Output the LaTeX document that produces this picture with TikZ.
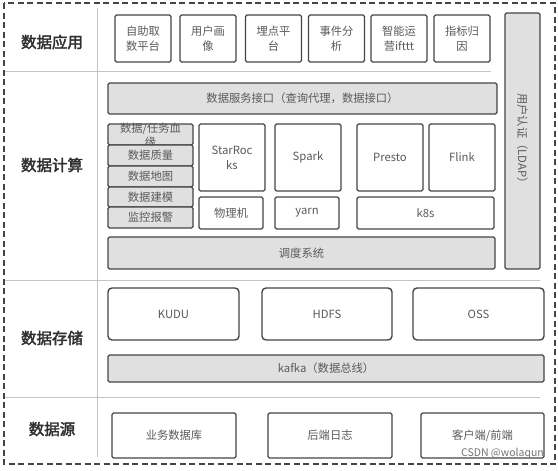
\documentclass[tikz,border=0pt]{standalone}
\usepackage{fontspec}
\setmainfont{Noto Sans CJK SC}
\newfontfamily\lblfont{Noto Sans CJK SC}[FakeBold=2.5]
\usetikzlibrary{positioning}
\definecolor{bordc}{HTML}{454545}
\definecolor{txtc}{HTML}{5A5A5A}
\definecolor{fillg}{HTML}{E0E0E0}
\definecolor{sepc}{HTML}{C4C4C4}
\definecolor{lblc}{HTML}{303030}
\begin{document}
\begin{tikzpicture}[x=1pt,y=-1pt,
  box/.style={draw=bordc,line width=1.4pt,rounded corners=1.5pt,fill=white,inner sep=0pt,
    text=txtc,font=\fontsize{11.3}{15}\selectfont,align=center},
  gbox/.style={box,fill=fillg},
  rbox/.style={box,rounded corners=4pt},
  lbl/.style={text=lblc,font=\lblfont\fontsize{15.5}{18}\selectfont},
  sep/.style={draw=sepc,line width=0.9pt}]
\useasboundingbox (0,0) rectangle (558,471);
% outer dashed frame
\draw[bordc,line width=1.4pt,dash pattern=on 6pt off 3.5pt] (4,3) rectangle (555,464);
% separators
\coordinate (v1) at (97,8); \coordinate (v2) at (97,457);
\draw[sep] (v1) -- (v2);
\coordinate (h1a) at (5,71); \coordinate (h1b) at (491,71);
\coordinate (h2a) at (5,280); \coordinate (h2b) at (540,280);
\coordinate (h3a) at (5,397); \coordinate (h3b) at (540,397);
\draw[sep] (h1a) -- (h1b);
\draw[sep] (h2a) -- (h2b);
\draw[sep] (h3a) -- (h3b);
% row labels
\node[lbl] (l1) at (52,42) {数据应用};
\node[lbl] (l2) at (52,165) {数据计算};
\node[lbl] (l3) at (52,338) {数据存储};
\node[lbl] (l4) at (52,429) {数据源};
% application boxes
\foreach \n/\cx/\t in {a1/143/{自助取\\数平台},a2/208/{用户画\\像},a3/273.5/{埋点平\\台},a4/336.5/{事件分\\析},a5/399/{智能运\\营ifttt},a6/462/{指标归\\因}}
  \node[box,minimum width=56pt,minimum height=47pt] (\n) at (\cx,38.5) {\t};
% LDAP
\node[gbox,minimum width=35pt,minimum height=256pt] (ldap) at (522.5,141) {};
\node[text=txtc,font=\fontsize{11.3}{13}\selectfont,rotate=-90] (ldapt) at (ldap.center) {用户认证（LDAP）};
% service interface
\node[gbox,minimum width=389pt,minimum height=31pt] (svc) at (302.5,98.5) {数据服务接口（查询代理，数据接口）};
% left stack
\node[gbox,minimum width=85pt,minimum height=21pt] (s1) at (150.5,134.5) {};
\node[text=txtc,font=\fontsize{11.3}{14}\selectfont,align=center] (s1t) at (150.5,135) {数据/任务血\\缘};
\node[gbox,minimum width=85pt,minimum height=21pt] (s2) at (150.5,155.5) {数据质量};
\node[gbox,minimum width=85pt,minimum height=21pt] (s3) at (150.5,176.5) {数据地图};
\node[gbox,minimum width=85pt,minimum height=20pt] (s4) at (150.5,197) {数据建模};
\node[gbox,minimum width=85pt,minimum height=21pt] (s5) at (150.5,217.5) {监控报警};
% engines
\node[box,minimum width=66pt,minimum height=67pt] (sr) at (232,157.5) {StarRoc\\ks};
\node[box,minimum width=66pt,minimum height=67pt] (sp) at (308,157.5) {Spark};
\node[box,minimum width=66pt,minimum height=67pt] (pr) at (390,157.5) {Presto};
\node[box,minimum width=66pt,minimum height=67pt] (fl) at (462,157.5) {Flink};
\node[box,minimum width=64pt,minimum height=32pt] (pm) at (231,213) {物理机};
\node[box,minimum width=64pt,minimum height=32pt] (yarn) at (307,213) {yarn};
\node[box,minimum width=137pt,minimum height=32pt] (k8s) at (425.5,213) {k8s};
% scheduler
\node[gbox,minimum width=387pt,minimum height=32pt] (sch) at (301.5,253) {调度系统};
% storage
\node[rbox,minimum width=131pt,minimum height=52pt] (kudu) at (173.5,314) {KUDU};
\node[rbox,minimum width=130pt,minimum height=52pt] (hdfs) at (327,314) {HDFS};
\node[rbox,minimum width=131pt,minimum height=52pt] (oss) at (478.5,314) {OSS};
\node[gbox,minimum width=436pt,minimum height=27pt] (kafka) at (326,368.5) {kafka（数据总线）};
% sources
\node[box,minimum width=124pt,minimum height=45pt] (db) at (174,435.5) {业务数据库};
\node[box,minimum width=124pt,minimum height=45pt] (log) at (330,435.5) {后端日志};
\node[box,minimum width=123pt,minimum height=45pt] (cli) at (482.5,435.5) {客户端/前端};
% watermark
\node[text=black!55,font=\fontsize{10.5}{12}\selectfont,anchor=east,inner sep=0pt] (wm) at (544,454) {CSDN @wolaqun};
\end{tikzpicture}
\end{document}
